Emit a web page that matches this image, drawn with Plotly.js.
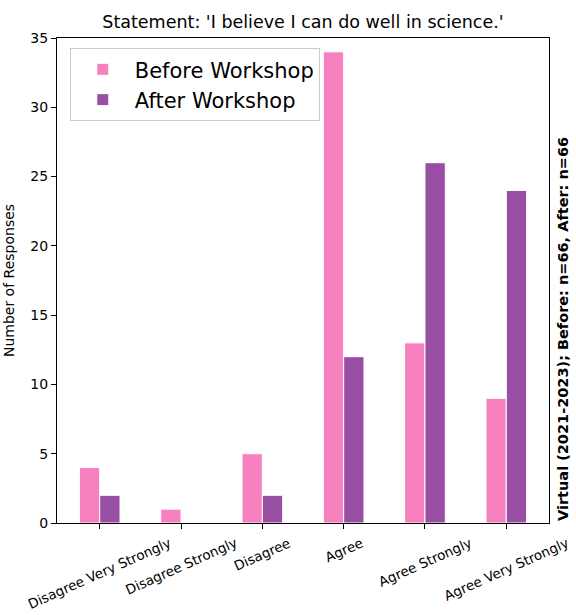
<!DOCTYPE html>
<html>
<head>
<meta charset="utf-8">
<script src="https://cdn.plot.ly/plotly-3.0.1.min.js"></script>
<style>html,body{margin:0;padding:0;background:#fff;}#chart{width:576px;height:615px;}</style>
</head>
<body>
<div id="chart"></div>
<script>
const categories = ["Disagree Very Strongly", "Disagree Strongly", "Disagree", "Agree", "Agree Strongly", "Agree Very Strongly"];
const beforeValues = [4, 1, 5, 34, 13, 9];
const afterValues = [2, 0, 2, 12, 26, 24];
const yTicks = [0, 5, 10, 15, 20, 25, 30, 35];
const titleText = "Statement: 'I believe I can do well in science.'";
const sideNote = "Virtual (2021-2023); Before: n=66, After: n=66";

const FONT = "DejaVu Sans, Liberation Sans, sans-serif";

const traces = [
  {type: 'bar', name: 'Before Workshop', x: categories, y: beforeValues,
   marker: {color: '#f781bf', line: {color: '#ffffff', width: 1}}},
  {type: 'bar', name: 'After Workshop', x: categories, y: afterValues,
   marker: {color: '#984ea3', line: {color: '#ffffff', width: 1}}}
];

const annotations = categories.map(c => ({
  x: c, xref: 'x', y: 0, yref: 'paper', yshift: -10,
  text: c, showarrow: false, textangle: -24, borderpad: 0,
  xanchor: 'center', yanchor: 'top',
  font: {family: FONT, size: 13.5, color: '#000'}
}));
annotations.push({
  x: 1, xref: 'paper', xshift: 14, y: 0, yref: 'paper',
  text: '<b>' + sideNote + '</b>', showarrow: false, textangle: -90,
  xanchor: 'center', yanchor: 'bottom',
  font: {family: FONT, size: 14.5, color: '#000'}
});

const layout = {
  width: 576, height: 615,
  margin: {l: 57, r: 27, t: 38, b: 92},
  paper_bgcolor: '#fff', plot_bgcolor: '#fff',
  font: {family: FONT, size: 14, color: '#000'},
  title: {text: titleText, x: 0.526, xanchor: 'center', y: 0.964, yanchor: 'middle',
          font: {family: FONT, size: 17.5, color: '#000'}},
  barmode: 'group', bargap: 0.5, bargroupgap: 0,
  xaxis: {type: 'category', range: [-0.525, 5.525], showticklabels: false,
          ticks: 'outside', ticklen: 5, tickcolor: '#000', tickwidth: 1,
          showline: true, linecolor: '#000', linewidth: 1, mirror: true,
          showgrid: false, zeroline: false, fixedrange: true},
  yaxis: {range: [0, 35], tickvals: yTicks, ticktext: yTicks.map(String),
          ticks: 'outside', ticklen: 5, tickcolor: '#000', tickwidth: 1,
          tickfont: {family: FONT, size: 14, color: '#000'},
          showline: true, linecolor: '#000', linewidth: 1, mirror: true,
          showgrid: false, zeroline: false,
          title: {text: 'Number of Responses', standoff: 12, font: {family: FONT, size: 14, color: '#000'}}},
  legend: {x: 0.026, y: 0.979, xanchor: 'left', yanchor: 'top',
           bgcolor: 'rgba(255,255,255,0.8)', bordercolor: '#cccccc', borderwidth: 1,
           font: {family: FONT, size: 21, color: '#000'}, itemwidth: 54, tracegroupgap: 4},
  annotations: annotations,
  showlegend: true
};

Plotly.newPlot('chart', traces, layout, {displayModeBar: false, staticPlot: true});
</script>
</body>
</html>
